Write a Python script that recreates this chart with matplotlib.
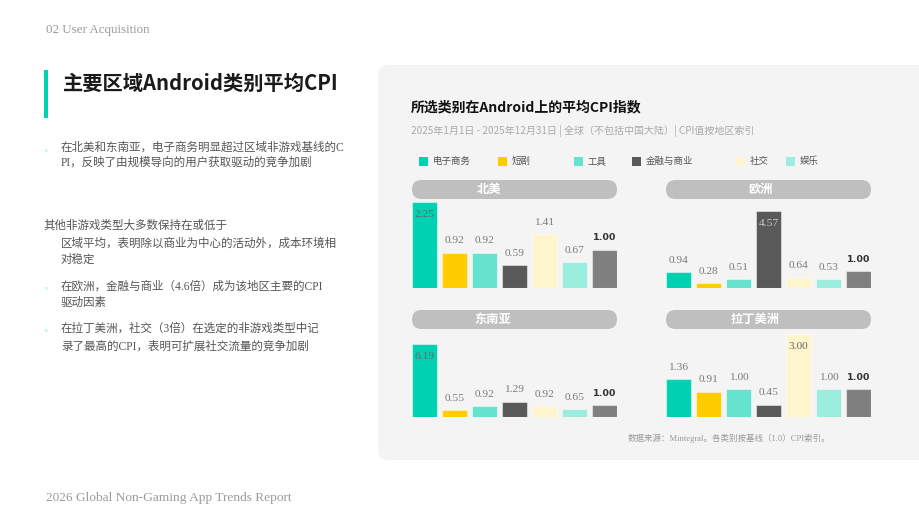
import matplotlib
matplotlib.use("Agg")
import matplotlib.pyplot as plt
from matplotlib.patches import FancyBboxPatch, Rectangle

plt.rcParams["font.family"] = ["Noto Sans CJK SC", "DejaVu Sans"]

# data
categories = ["电子商务", "短剧", "工具", "金融与商业", "社交", "娱乐", "基线"]
colors = ["#00d1b2", "#ffcc00", "#66e3cf", "#595959", "#fff5cc", "#9beddd", "#7f7f7f"]
regions = ["北美", "欧洲", "东南亚", "拉丁美洲"]
cpi_na = [2.25, 0.92, 0.92, 0.59, 1.41, 0.67, 1.00]
cpi_eu = [0.94, 0.28, 0.51, 4.57, 0.64, 0.53, 1.00]
cpi_sea = [6.19, 0.55, 0.92, 1.29, 0.92, 0.65, 1.00]
cpi_latam = [1.36, 0.91, 1.00, 0.45, 3.00, 1.00, 1.00]
region_values = [cpi_na, cpi_eu, cpi_sea, cpi_latam]

SERIF = ["Liberation Serif", "Noto Sans CJK SC"]
W, H = 920, 519

fig = plt.figure(figsize=(W / 100, H / 100), dpi=100)
fig.patch.set_facecolor("white")

# overlay axes in pixel coordinates (y down)
bg = fig.add_axes([0, 0, 1, 1], zorder=0)
bg.set_xlim(0, W)
bg.set_ylim(H, 0)
bg.axis("off")

# ---- left side ----
bg.text(46, 30, "02 User Acquisition", fontsize=9.4, color="#9a9a9a",
        family=SERIF, va="center", ha="left")
bg.add_patch(Rectangle((44, 70), 4, 48, color="#00d1b2", lw=0))
bg.text(63, 83, "主要区域Android类别平均CPI", fontsize=14.6, fontweight="bold",
        color="#1a1a1a", va="center", ha="left")

bullet_lines = [
    (61, 148, "在北美和东南亚，电子商务明显超过区域非游戏基线的C", True),
    (61, 163, "PI，反映了由规模导向的用户获取驱动的竞争加剧", False),
    (43, 226, "其他非游戏类型大多数保持在或低于", False),
    (61, 244, "区域平均，表明除以商业为中心的活动外，成本环境相", False),
    (61, 260, "对稳定", False),
    (61, 287, "在欧洲，金融与商业（4.6倍）成为该地区主要的CPI", True),
    (61, 303, "驱动因素", False),
    (61, 329, "在拉丁美洲，社交（3倍）在选定的非游戏类型中记", True),
    (61, 347, "录了最高的CPI，表明可扩展社交流量的竞争加剧", False),
]
for x, y, txt, mark in bullet_lines:
    bg.text(x, y, txt, fontsize=8.3, color="#555555", family=SERIF,
            va="center", ha="left")
    if mark:
        bg.text(45, y + 2, "n", fontsize=4, color="#8fe6d8", family=SERIF,
                va="center", ha="left")

bg.text(46, 498, "2026 Global Non-Gaming App Trends Report", fontsize=9.6,
        color="#9a9a9a", family=SERIF, va="center", ha="left")

# ---- right panel ----
bg.add_patch(FancyBboxPatch((378, 65), 580, 395,
                            boxstyle="round,pad=0,rounding_size=10",
                            facecolor="#f4f4f4", edgecolor="none"))
bg.text(411, 107, "所选类别在Android上的平均CPI指数", fontsize=10,
        fontweight="bold", color="#111111", va="center", ha="left")
bg.text(411, 131, "2025年1月1日 - 2025年12月31日 | 全球（不包括中国大陆）| CPI值按地区索引",
        fontsize=7.2, color="#aaaaaa", va="center", ha="left")

legend_x = [419, 498, 574, 632, 736, 786]
for lx, name, c in zip(legend_x, categories[:6], colors[:6]):
    bg.add_patch(Rectangle((lx, 157), 9, 9, color=c, lw=0))
    bg.text(lx + 14, 161.5, name, fontsize=6.8, color="#555555",
            va="center", ha="left")

# panel geometry: (left, right, pill top, bar bottom, ylim top, label x)
panels = [
    (412, 617, 180, 288, 2.30, 489),
    (666, 871, 180, 288, 5.22, 761),
    (412, 617, 310, 417, 7.36, 493),
    (666, 871, 310, 417, 3.14, 755),
]

for region, vals, (x0, x1, ptop, bot, ytop, tx) in zip(regions, region_values, panels):
    bg.add_patch(FancyBboxPatch((x0, ptop), x1 - x0, 19,
                                boxstyle="round,pad=0,rounding_size=9.5",
                                facecolor="#bfbfbf", edgecolor="none"))
    bg.text(tx, ptop + 9.5, region, fontsize=8.8, fontweight="bold",
            color="white", va="center", ha="center")

    atop = ptop + 20
    ax = fig.add_axes([x0 / W, 1 - bot / H, (x1 - x0) / W, (bot - atop) / H],
                      zorder=2)
    ax.patch.set_alpha(0)
    xs = list(range(len(vals)))
    ax.bar(xs, vals, width=0.84, color=colors,
           edgecolor=(1, 1, 1, 0.45), linewidth=0.8)
    ax.set_xlim(-0.42, len(vals) - 0.58)
    ax.set_ylim(0, ytop)
    ax.axis("off")

    vmax = max(vals)
    for i, v in enumerate(vals):
        if i == len(vals) - 1:
            ax.annotate(f"{v:.2f}", xy=(i, v), xytext=(0, 8.6),
                        textcoords="offset points", ha="center", va="center",
                        fontsize=6.8, fontweight="bold", color="#333333",
                        family=["DejaVu Sans"])
        elif v == vmax:
            tc = "#cccccc" if colors[i] == "#595959" else "#666666"
            ax.annotate(f"{v:.2f}", xy=(i, v), xytext=(0, -9),
                        textcoords="offset points", ha="center", va="center",
                        fontsize=8.2, color=tc, family=SERIF)
        else:
            ax.annotate(f"{v:.2f}", xy=(i, v), xytext=(0, 8.6),
                        textcoords="offset points", ha="center", va="center",
                        fontsize=8.2, color="#7a7a7a", family=SERIF)

bg.text(628, 438, "数据来源：Mintegral。各类别按基线（1.0）CPI索引。",
        fontsize=6.1, color="#9a9a9a", family=SERIF, va="center", ha="left")

fig.savefig("out.png", dpi=100, facecolor="white")
